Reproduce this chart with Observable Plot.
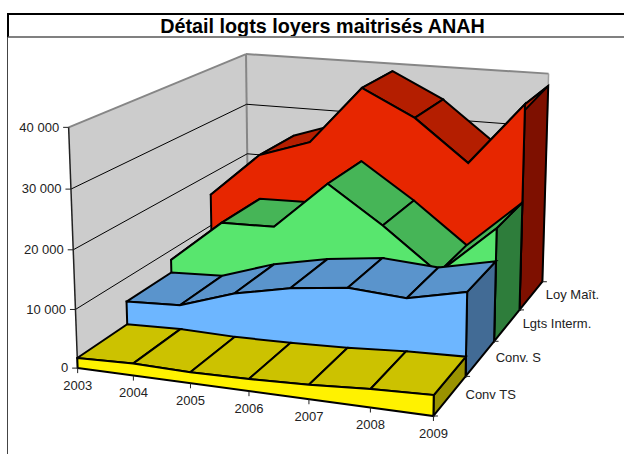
<!DOCTYPE html><html><head><meta charset="utf-8"><style>
html,body{margin:0;background:#fff;overflow:hidden}
#t{margin:13px 0 0 7px;height:21px;border-top:2px solid #000;border-left:2px solid #000;border-bottom:2px solid #808080;box-sizing:content-box;font:bold 19.8px/22px "Liberation Sans",Arial,sans-serif;color:#000;text-align:center;padding-left:12px;white-space:nowrap;overflow:hidden}
#c{margin-left:7px;border-left:1px solid #444;height:416px}
#c svg{display:block}
</style></head><body>
<script src="https://cdn.jsdelivr.net/npm/d3@7"></script>
<script src="https://cdn.jsdelivr.net/npm/@observablehq/plot@0.6"></script>
<div id="t">Détail logts loyers maitrisés ANAH</div><div id="c"></div>
<script>
// Data
const years=[2003,2004,2005,2006,2007,2008,2009];
const seriesNames=["Conv TS","Conv. S","Lgts Interm.","Loy Maît."];
const convTS=[1730,2045,1870,2030,2390,3010,3350];
const convS=[5830,6300,9500,11500,12700,12040,14200];
const lgtsInterm=[8200,16100,16350,25000,18500,11100,19950];
const loyMait=[16000,24500,27750,38550,33780,26300,37700];
const seriesValues=[convTS,convS,lgtsInterm,loyMait];
const valueTicks=[0,10000,20000,30000,40000];
const tickLabels=["0","10 000","20 000","30 000","40 000"];
const palette=[
 {front:"#FFF200",top:"#CCC200",side:"#9A9200"},
 {front:"#6DB6FF",top:"#5A94CC",side:"#426B95"},
 {front:"#58E66E",top:"#46B557",side:"#2E7D3B"},
 {front:"#E72600",top:"#B41E00",side:"#7E1000"}];
// Oblique 3D view: homogeneous camera matrix (year, depth, value) -> page pixel
const cam=[324.965,229.468,-11.3303,77.1517,18.3122,-58.1112,-245.060,367.611,-0.0711675,0.236739,-0.0339203];
function view(year,depth,value){
 const u=(year-years[0])/(years[years.length-1]-years[0]),w=value/40000;
 const d=cam[8]*u+cam[9]*depth+cam[10]*w+1;
 return {x:(cam[0]*u+cam[1]*depth+cam[2]*w+cam[3])/d,y:(cam[4]*u+cam[5]*depth+cam[6]*w+cam[7])/d};
}
const y0=years[0],y1=years[6];
const poly=(pts,fill,extra={})=>{const r=pts.map(p=>view(...p));r.push(r[0]);
 return Plot.line(r,{x:"x",y:"y",fill,stroke:"#000",strokeWidth:2,strokeLinejoin:"miter",strokeMiterlimit:3,...extra});};
const seg=(a,b,stroke,strokeWidth)=>Plot.link([{a:view(...a),b:view(...b)}],{x1:d=>d.a.x,y1:d=>d.a.y,x2:d=>d.b.x,y2:d=>d.b.y,stroke,strokeWidth});
const marks=[];
// Walls
marks.push(poly([[y0,0,0],[y0,1,0],[y0,1,40000],[y0,0,40000]],"#CCCCCC",{stroke:"none"}));
marks.push(poly([[y0,1,0],[y1,1,0],[y1,1,40000],[y0,1,40000]],"#CCCCCC",{stroke:"none"}));
marks.push(seg([y0,0,40000],[y0,1,40000],"#868686",2));
marks.push(seg([y0,1,40000],[y1,1,40000],"#868686",2));
marks.push(seg([y0,1,40000],[y0,1,0],"#868686",2));
marks.push(seg([y1,1,40000],[y1,1,0],"#A0A0A0",1.5));
for(const v of valueTicks.slice(1,4)){
 marks.push(seg([y0,0,v],[y0,1,v],"#000",1));
 marks.push(seg([y0,1,v],[y1,1,v],"#000",1));
}
marks.push(seg([y0,0,0],[y0,0,40000],"#222",1.5));
// Series, from the back to the front
for(let s=3;s>=0;s--){
 const a=s/4,b=(s+1)/4,vals=seriesValues[s],c=palette[s];
 marks.push(poly([[y1,a,0],[y1,b,0],[y1,b,vals[6]],[y1,a,vals[6]]],c.side));
 for(let i=0;i<6;i++){
  marks.push(poly([[years[i],a,vals[i]],[years[i+1],a,vals[i+1]],[years[i+1],b,vals[i+1]],[years[i],b,vals[i]]],c.top));
 }
 marks.push(poly([[y0,a,0],...years.map((yr,i)=>[yr,a,vals[i]]),[y1,a,0]],c.front));
}
// Axes
const Tx=(rows,opts)=>Plot.text(rows,{x:"x",y:"y",text:"t",fontSize:13,fill:"#222",...opts});
const tick=(p,dx,dy)=>{const q=view(...p);return Plot.link([q],{x1:"x",y1:"y",x2:d=>d.x+dx,y2:d=>d.y+dy,stroke:"#222",strokeWidth:1});};
valueTicks.forEach(v=>marks.push(tick([y0,0,v],-5.5,0)));
years.forEach(yr=>marks.push(tick([yr,0,0],0,5)));
[0,.25,.5,.75,1].forEach(d=>marks.push(tick([y1,d,0],4.5,0)));
marks.push(Tx(valueTicks.map((v,i)=>{const q=view(y0,0,v);return {x:q.x-9.5,y:q.y,t:tickLabels[i]};}),{textAnchor:"end"}));
marks.push(Tx(years.map(yr=>{const q=view(yr,0,0);return {x:q.x,y:q.y+17.5,t:String(yr)};}),{textAnchor:"middle"}));
marks.push(Tx(seriesNames.map((n,i)=>{const q=view(y1,(i+.5)/4,0);return {x:q.x+15.5-(i===3?1:0),y:q.y-1,t:n};}),{textAnchor:"start"}));
const svg=Plot.plot({width:616,height:416,margin:0,
 x:{domain:[8,624],range:[0,616],axis:null},
 y:{domain:[38,454],range:[0,416],axis:null},
 style:{fontFamily:"'Liberation Sans',Arial,sans-serif",background:"transparent",overflow:"visible"},
 marks});
document.getElementById("c").append(svg);
</script></body></html>
